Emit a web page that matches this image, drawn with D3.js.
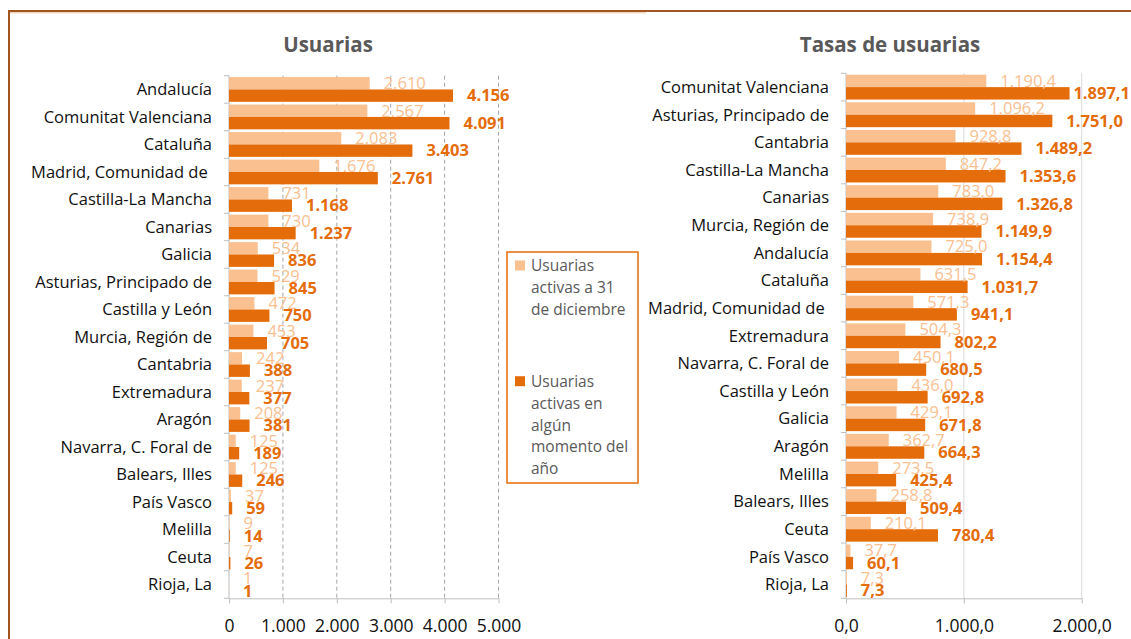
<!DOCTYPE html>
<html>
<head>
<meta charset="utf-8">
<script src="https://cdn.jsdelivr.net/npm/d3@7"></script>
<style>
  body { margin: 0; background: #fff; }
  svg { font-family: "Open Sans", sans-serif; display: block; }
</style>
</head>
<body>
<div id="chart"></div>
<script>
// datos: usuarias (absolutas) y tasas
const leftCats = ["Andalucía", "Comunitat Valenciana", "Cataluña", "Madrid, Comunidad de ", "Castilla-La Mancha",
  "Canarias", "Galicia", "Asturias, Principado de", "Castilla y León", "Murcia, Región de", "Cantabria",
  "Extremadura", "Aragón", "Navarra, C. Foral de", "Balears, Illes", "País Vasco", "Melilla", "Ceuta", "Rioja, La"];
const leftDic = [2610, 2567, 2083, 1676, 731, 730, 534, 529, 472, 453, 242, 237, 208, 125, 125, 37, 9, 7, 1];
const leftAny = [4156, 4091, 3403, 2761, 1168, 1237, 836, 845, 750, 705, 388, 377, 381, 189, 246, 59, 14, 26, 1];
const leftTicks = [0, 1000, 2000, 3000, 4000, 5000];

const rightCats = ["Comunitat Valenciana", "Asturias, Principado de", "Cantabria", "Castilla-La Mancha", "Canarias",
  "Murcia, Región de", "Andalucía", "Cataluña", "Madrid, Comunidad de ", "Extremadura", "Navarra, C. Foral de",
  "Castilla y León", "Galicia", "Aragón", "Melilla", "Balears, Illes", "Ceuta", "País Vasco", "Rioja, La"];
const rightDic = [1190.4, 1096.2, 928.8, 847.2, 783.0, 738.9, 725.0, 631.5, 571.3, 504.3, 450.1, 436.0, 429.1, 362.7, 273.5, 258.8, 210.1, 37.7, 7.3];
const rightAny = [1897.1, 1751.0, 1489.2, 1353.6, 1326.8, 1149.9, 1154.4, 1031.7, 941.1, 802.2, 680.5, 692.8, 671.8, 664.3, 425.4, 509.4, 780.4, 60.1, 7.3];
const rightTicks = [0, 1000, 2000];

const legendItems = [
  {key: "dic", lines: ["Usuarias", "activas a 31", "de diciembre"]},
  {key: "any", lines: ["Usuarias", "activas en", "algún", "momento del", "año"]}
];

const LIGHT = "#FAC090", DARK = "#E46C0A";
const es = d3.formatLocale({decimal: ",", thousands: ".", grouping: [3], currency: ["", "€"]});

const W = 1131, H = 639;
const svg = d3.select("#chart").append("svg").attr("width", W).attr("height", H);

// marco
svg.append("path").attr("d", `M9,${H} V11 H${W}`).attr("fill", "none")
  .attr("stroke", "#A0561E").attr("stroke-width", 2);
svg.append("path").attr("d", "M10,12.8 H646").attr("stroke", "#EBC3A2").attr("stroke-width", 1);

function panel(o) {
  const x = d3.scaleLinear().domain(o.domain).range([o.x0, o.x1]);
  const y = d3.scaleBand().domain(o.cats).range([o.y0, o.y1]).paddingInner(0.1).paddingOuter(0.05);
  const sub = d3.scaleBand().domain(["dic", "any"]).range([0, y.bandwidth()]);
  const yb = d3.scaleLinear().domain([0, o.cats.length]).range([o.y0, o.y1]);
  const g = svg.append("g");

  g.append("text").attr("x", o.titleX).attr("y", 45).attr("dy", "0.35em")
    .attr("text-anchor", "middle").attr("font-size", 20.5).attr("font-weight", 700)
    .attr("fill", "#595959").text(o.title);

  // rejilla
  g.selectAll(".grid").data(o.ticks.filter(d => d > 0)).enter().append("line")
    .attr("x1", d => x(d)).attr("x2", d => x(d))
    .attr("y1", o.y0).attr("y2", o.y1)
    .attr("stroke", o.dashed ? "#A6A6A6" : "#D9D9D9")
    .attr("stroke-dasharray", o.dashed ? "4,3" : null);

  // eje x
  const ax = g.append("g").attr("transform", `translate(0,${o.y1})`)
    .call(d3.axisBottom(x).tickValues(o.ticks).tickFormat(es.format(o.fmt)).tickSize(5).tickSizeOuter(0).tickPadding(16));
  ax.select(".domain").attr("stroke", "#BFBFBF");
  ax.selectAll(".tick line").attr("stroke", "#BFBFBF");
  ax.selectAll(".tick text").attr("font-size", 17.5).attr("fill", "#111").attr("font-family", "Open Sans");

  // eje y
  g.append("line").attr("x1", o.x0).attr("x2", o.x0).attr("y1", o.y0).attr("y2", o.y1).attr("stroke", "#BFBFBF");
  g.selectAll(".ytick").data(d3.range(o.cats.length + 1)).enter().append("line")
    .attr("x1", o.x0 - 5).attr("x2", o.x0).attr("y1", d => yb(d)).attr("y2", d => yb(d)).attr("stroke", "#BFBFBF");
  g.selectAll(".cat").data(o.cats).enter().append("text")
    .attr("x", o.x0 - 17).attr("y", d => y(d) + y.bandwidth() / 2).attr("dy", "0.35em")
    .attr("text-anchor", "end").attr("font-size", 16.5).attr("fill", "#111")
    .style("white-space", "pre").text(d => d);

  const rows = o.cats.map((c, i) => ({c, dic: o.dic[i], any: o.any[i]}));
  const series = [
    {key: "dic", color: LIGHT, weight: 400},
    {key: "any", color: DARK, weight: 700}
  ];
  series.forEach(s => {
    g.selectAll(".bar-" + s.key).data(rows).enter().append("rect")
      .attr("x", x(0)).attr("y", d => y(d.c) + sub(s.key))
      .attr("width", d => x(d[s.key]) - x(0)).attr("height", sub.bandwidth())
      .attr("fill", s.color);
  });
  series.forEach(s => {
    g.selectAll(".lab-" + s.key).data(rows).enter().append("text")
      .attr("x", d => x(d[s.key]) + 14).attr("y", d => y(d.c) + sub(s.key) + sub.bandwidth() / 2)
      .attr("dy", "0.35em").attr("font-size", 16.5).attr("font-weight", s.weight)
      .attr("fill", s.color).text(d => es.format(o.fmt)(d[s.key]))
      .each(function () {
        const w = this.getComputedTextLength();
        const cx = +this.getAttribute("x");
        if (cx + w > o.labelMax) this.setAttribute("x", o.labelMax - w);
      });
  });
}

panel({cats: leftCats, dic: leftDic, any: leftAny, domain: [0, 5000], ticks: leftTicks, fmt: ",.0f",
  x0: 229, x1: 498.5, y0: 75.7, y1: 598.3, title: "Usuarias", titleX: 328, dashed: true, labelMax: 640});
panel({cats: rightCats, dic: rightDic, any: rightAny, domain: [0, 2000], ticks: rightTicks, fmt: ",.1f",
  x0: 846, x1: 1081.7, y0: 73.3, y1: 598.3, title: "Tasas de usuarias", titleX: 890, dashed: false, labelMax: 1130});

// leyenda
const lg = svg.append("g");
lg.append("rect").attr("x", 507).attr("y", 252).attr("width", 131).attr("height", 231)
  .attr("fill", "#fff").attr("stroke", DARK).attr("stroke-width", 1.5);
const itemY = [266, 381.7];
legendItems.forEach((it, i) => {
  lg.append("rect").attr("x", 515).attr("y", itemY[i] - 5.5).attr("width", 10).attr("height", 10)
    .attr("fill", it.key === "dic" ? LIGHT : DARK);
  const t = lg.append("text").attr("font-size", 15.5).attr("fill", "#595959");
  it.lines.forEach((ln, j) => {
    t.append("tspan").attr("x", 531).attr("y", itemY[i] + j * 21.7).attr("dy", "0.35em").text(ln);
  });
});
</script>
</body>
</html>
